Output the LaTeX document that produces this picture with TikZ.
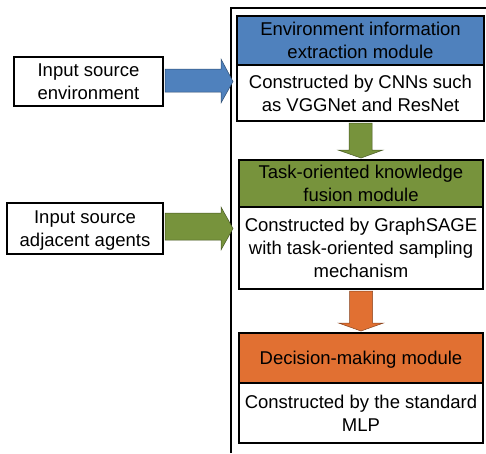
\documentclass[tikz,border=0pt]{standalone}
\usepackage{fontspec}
\setmainfont{Liberation Sans}
\usetikzlibrary{calc}
\definecolor{hblue}{RGB}{79,129,189}
\definecolor{hgreen}{RGB}{119,147,60}
\definecolor{horange}{RGB}{225,112,50}
\tikzset{
  box/.style={draw=black, line width=2pt, inner sep=1pt, align=center,
    font=\fontsize{18.5}{23}\selectfont, text depth=0pt},
  blockarrow/.style={line width=0.5pt, line join=miter},
}
\begin{document}
\begin{tikzpicture}[x=1pt,y=-1pt]
\useasboundingbox (0,0) rectangle (486,453);
% outer frame
\coordinate (fr) at (231,453);
\coordinate (ft) at (231,8);
\coordinate (fe) at (488,8);
\draw[line width=2pt] (fr) -- (ft) -- (fe);
% module boxes
\node[box, fill=hblue, minimum width=247pt, minimum height=49pt] (h1) at (360.5,40.5) {Environment information\\extraction module};
\node[box, fill=white, minimum width=247pt, minimum height=56pt] (b1) at (360.5,93) {Constructed by CNNs such\\as VGGNet and ResNet};
\node[box, fill=hgreen, minimum width=244pt, minimum height=47pt] (h2) at (361,183.5) {Task-oriented knowledge\\fusion module};
\node[box, fill=white, minimum width=244pt, minimum height=82pt] (b2) at (361,248) {Constructed by GraphSAGE\\with task-oriented sampling\\mechanism};
\node[box, fill=horange, minimum width=244pt, minimum height=50pt] (h3) at (361,358) {Decision-making module};
\node[box, fill=white, minimum width=244pt, minimum height=60pt] (b3) at (361,413) {Constructed by the standard\\MLP};
% input boxes
\node[box, fill=white, minimum width=149pt, minimum height=49pt] (env) at (88.5,81.5) {Input source\\environment};
\node[box, fill=white, minimum width=156pt, minimum height=51pt] (adj) at (85,228.5) {Input source\\adjacent agents};
% horizontal block arrows
\filldraw[blockarrow, fill=hblue, draw=hblue!60!black]
  ($(env.east)+(1,-12.5)$) -- ($(env.east)+(57,-12.5)$) -- ($(env.east)+(57,-22.5)$)
  -- ($(env.east)+(69,0)$) -- ($(env.east)+(57,21.5)$) -- ($(env.east)+(57,10.5)$)
  -- ($(env.east)+(1,10.5)$) -- cycle;
\filldraw[blockarrow, fill=hgreen, draw=hgreen!60!black]
  ($(adj.east)+(1,-15.5)$) -- ($(adj.east)+(57,-15.5)$) -- ($(adj.east)+(57,-21.5)$)
  -- ($(adj.east)+(69,0)$) -- ($(adj.east)+(57,21.5)$) -- ($(adj.east)+(57,11.5)$)
  -- ($(adj.east)+(1,11.5)$) -- cycle;
% vertical block arrows
\filldraw[blockarrow, fill=hgreen, draw=hgreen!60!black]
  ($(b1.south)+(-11.5,1)$) -- ($(b1.south)+(-11.5,28)$) -- ($(b1.south)+(-22.5,28)$)
  -- ($(h2.north)+(0,-1)$) -- ($(b1.south)+(22.5,28)$) -- ($(b1.south)+(11.5,28)$)
  -- ($(b1.south)+(11.5,1)$) -- cycle;
\filldraw[blockarrow, fill=horange, draw=horange!60!black]
  ($(b2.south)+(-11.5,1)$) -- ($(b2.south)+(-11.5,33)$) -- ($(b2.south)+(-22.5,33)$)
  -- ($(h3.north)+(0,-1)$) -- ($(b2.south)+(22.5,33)$) -- ($(b2.south)+(11.5,33)$)
  -- ($(b2.south)+(11.5,1)$) -- cycle;
\end{tikzpicture}
\end{document}
